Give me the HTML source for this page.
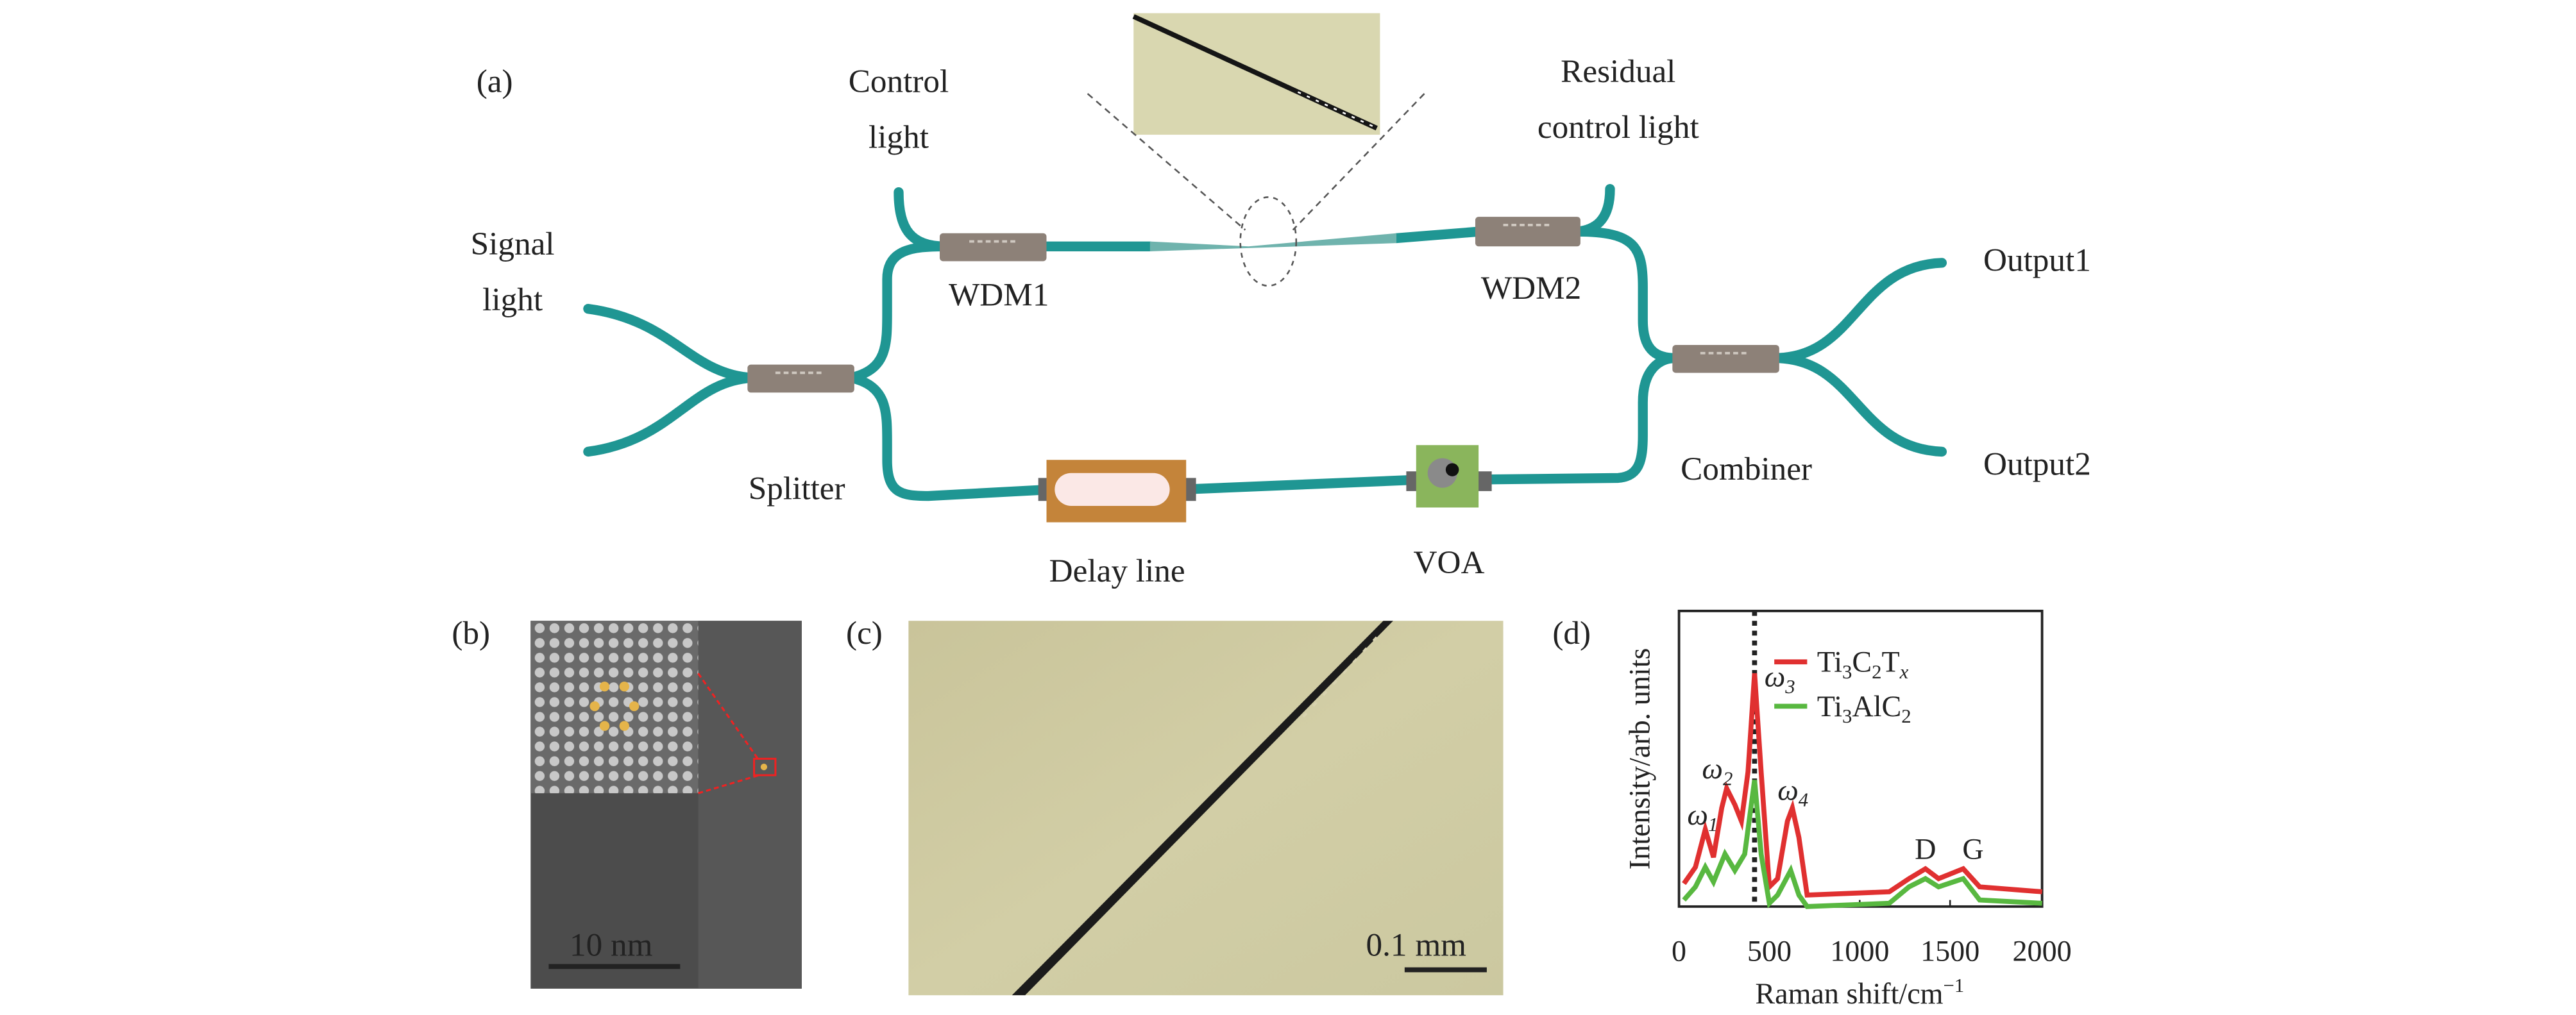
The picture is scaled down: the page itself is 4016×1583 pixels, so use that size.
<!DOCTYPE html>
<html><head><meta charset="utf-8"><style>
html,body{margin:0;padding:0;background:#fff;}
svg{display:block;}
text{font-family:"Liberation Serif",serif;fill:#222;}
</style></head><body>
<svg width="4016" height="1583" viewBox="0 0 1568 618" xmlns="http://www.w3.org/2000/svg">
<defs>
<pattern id="dots" width="9" height="9" patternUnits="userSpaceOnUse">
<rect width="9" height="9" fill="#6a6a6a"/><circle cx="4.5" cy="4.5" r="3" fill="#c8c8c8"/></pattern>
<linearGradient id="cg" x1="0" y1="0" x2="1" y2="1">
<stop offset="0" stop-color="#c9c49a"/><stop offset="0.5" stop-color="#d2cea6"/><stop offset="1" stop-color="#cbc8a0"/></linearGradient>
</defs>
<rect width="1568" height="618" fill="#fff"/>
<!-- panel a -->
<text x="290" y="56" font-size="20">(a)</text>
<text x="547" y="56" font-size="20" text-anchor="middle">Control</text>
<text x="547" y="90" font-size="20" text-anchor="middle">light</text>
<text x="985" y="50" font-size="20" text-anchor="middle">Residual</text>
<text x="985" y="84" font-size="20" text-anchor="middle">control light</text>
<text x="312" y="155" font-size="20" text-anchor="middle">Signal</text>
<text x="312" y="189" font-size="20" text-anchor="middle">light</text>
<!-- inset photo -->
<rect x="690" y="8" width="150" height="74" fill="#d9d7b0"/>
<line x1="690" y1="10" x2="838" y2="78" stroke="#151515" stroke-width="3"/>
<line x1="790" y1="56" x2="836" y2="77" stroke="#fff" stroke-width="1" stroke-dasharray="2 4"/>
<line x1="662" y1="57" x2="758" y2="140" stroke="#555" stroke-width="1" stroke-dasharray="4 3"/>
<line x1="867" y1="57" x2="787" y2="140" stroke="#555" stroke-width="1" stroke-dasharray="4 3"/>
<!-- fibers -->
<g fill="none" stroke="#1f9693" stroke-width="6" stroke-linecap="round">
<path d="M358 188 C410 195 420 228 458 230"/>
<path d="M358 275 C410 268 420 232 458 230"/>
<path d="M518 230 C540 225 540 210 540 190 L540 170 C540 152 555 150 575 150"/>
<path d="M547 117 C547 140 555 150 575 150"/>
<path d="M635 150 L700 150"/>
<path d="M850 145 L900 141"/>
<path d="M980 115 C980 135 970 140 960 141"/>
<path d="M960 141 C995 141 1000 150 1000 175 L1000 195 C1000 215 1010 218 1020 218"/>
<path d="M1080 218 C1130 218 1130 162 1182 160"/>
<path d="M1080 218 C1130 218 1130 273 1182 275"/>
<path d="M518 230 C540 235 540 250 540 270 L540 280 C540 300 548 302 565 302 L640 298"/>
<path d="M720 298 L865 292"/>
<path d="M898 292 L985 291 C998 290 1000 280 1000 265 L1000 245 C1000 225 1010 218 1020 218"/>
</g>
<path d="M700 147 L760 150 L850 142 L850 148 L760 151 L700 153 Z" fill="#6fb3ad"/>
<ellipse cx="772" cy="147" rx="17" ry="27" fill="none" stroke="#555" stroke-width="1" stroke-dasharray="3 3"/>
<!-- couplers -->
<g fill="#8d8178">
<rect x="455" y="222" width="65" height="17" rx="2"/>
<rect x="572" y="142" width="65" height="17" rx="2"/>
<rect x="898" y="132" width="64" height="18" rx="2"/>
<rect x="1018" y="210" width="65" height="17" rx="2"/>
</g>
<g stroke="#cfc8c0" stroke-width="1.5" stroke-dasharray="3 2">
<line x1="472" y1="227" x2="500" y2="227"/><line x1="590" y1="147" x2="620" y2="147"/>
<line x1="915" y1="137" x2="945" y2="137"/><line x1="1035" y1="215" x2="1065" y2="215"/>
</g>
<!-- delay line -->
<rect x="632" y="291" width="8" height="14" fill="#666"/>
<rect x="720" y="291" width="8" height="14" fill="#666"/>
<rect x="637" y="280" width="85" height="38" fill="#c4843a"/>
<rect x="642" y="288" width="70" height="20" rx="10" fill="#fbe8e6"/>
<!-- VOA -->
<rect x="856" y="287" width="8" height="12" fill="#666"/>
<rect x="898" y="287" width="10" height="12" fill="#666"/>
<rect x="862" y="271" width="38" height="38" fill="#8ab55c"/>
<circle cx="878" cy="288" r="9" fill="#8a8a8a"/>
<circle cx="884" cy="286" r="4" fill="#111"/>
<text x="485" y="304" font-size="20" text-anchor="middle">Splitter</text>
<text x="608" y="186" font-size="20" text-anchor="middle">WDM1</text>
<text x="932" y="182" font-size="20" text-anchor="middle">WDM2</text>
<text x="1063" y="292" font-size="20" text-anchor="middle">Combiner</text>
<text x="1240" y="165" font-size="20" text-anchor="middle">Output1</text>
<text x="1240" y="289" font-size="20" text-anchor="middle">Output2</text>
<text x="680" y="354" font-size="20" text-anchor="middle">Delay line</text>
<text x="882" y="349" font-size="20" text-anchor="middle">VOA</text>
<!-- panel b -->
<text x="275" y="392" font-size="20">(b)</text>
<rect x="323" y="378" width="165" height="224" fill="#4c4c4c"/>
<rect x="425" y="378" width="63" height="224" fill="#575757"/>
<rect x="323" y="378" width="102" height="105" fill="url(#dots)"/>
<g fill="#e5b44a"><circle cx="368" cy="418" r="3"/><circle cx="380" cy="418" r="3"/><circle cx="362" cy="430" r="3"/><circle cx="386" cy="430" r="3"/><circle cx="368" cy="442" r="3"/><circle cx="380" cy="442" r="3"/></g>
<line x1="425" y1="410" x2="462" y2="463" stroke="#e22" stroke-width="1.2" stroke-dasharray="3 2"/>
<line x1="425" y1="483" x2="462" y2="472" stroke="#e22" stroke-width="1.2" stroke-dasharray="3 2"/>
<rect x="459" y="462" width="13" height="10" fill="none" stroke="#e22" stroke-width="1.2"/>
<circle cx="465" cy="467" r="2" fill="#e5b44a"/>
<text x="372" y="582" font-size="20" text-anchor="middle">10 nm</text>
<rect x="334" y="587" width="80" height="3" fill="#222"/>
<!-- panel c -->
<text x="515" y="392" font-size="20">(c)</text>
<rect x="553" y="378" width="362" height="228" fill="url(#cg)"/>
<path d="M842 378 L848 378 L624 606 L616 606 Z" fill="#1b1b1b"/>
<line x1="838" y1="388" x2="790" y2="440" stroke="#d8d3b0" stroke-width="1.5" stroke-dasharray="3 6"/>
<text x="862" y="582" font-size="20" text-anchor="middle">0.1 mm</text>
<rect x="855" y="589" width="50" height="3" fill="#222"/>
<!-- panel d -->
<text x="945" y="392" font-size="20">(d)</text>
<rect x="1022" y="372" width="221" height="180" fill="none" stroke="#222" stroke-width="1.5"/>
<g stroke="#222" stroke-width="1"><line x1="1077" y1="552" x2="1077" y2="548"/><line x1="1132" y1="552" x2="1132" y2="548"/><line x1="1187" y1="552" x2="1187" y2="548"/></g>
<text x="1022" y="585" font-size="18" text-anchor="middle">0</text>
<text x="1077" y="585" font-size="18" text-anchor="middle">500</text>
<text x="1132" y="585" font-size="18" text-anchor="middle">1000</text>
<text x="1187" y="585" font-size="18" text-anchor="middle">1500</text>
<text x="1243" y="585" font-size="18" text-anchor="middle">2000</text>
<text x="1132" y="611" font-size="18" text-anchor="middle">Raman shift/cm<tspan dy="-7" font-size="12">−1</tspan></text>
<text transform="translate(1004 462) rotate(-90)" font-size="18" text-anchor="middle">Intensity/arb. units</text>
<line x1="1068" y1="372" x2="1068" y2="552" stroke="#222" stroke-width="3" stroke-dasharray="3 3"/>
<path d="M1025 538 L1032 528 L1038 505 L1043 522 L1048 492 L1051 480 L1056 490 L1060 500 L1064 470 L1068 410 L1072 470 L1077 540 L1082 535 L1088 500 L1091 492 L1095 510 L1100 545 L1150 543 L1162 535 L1172 529 L1180 535 L1195 529 L1205 540 L1243 543" fill="none" stroke="#e03030" stroke-width="3"/>
<path d="M1025 548 L1032 540 L1038 528 L1043 537 L1050 520 L1056 530 L1062 520 L1068 475 L1072 520 L1077 550 L1082 545 L1090 530 L1095 545 L1100 552 L1150 550 L1162 540 L1172 535 L1180 540 L1195 535 L1205 548 L1243 550" fill="none" stroke="#58b840" stroke-width="3"/>
<line x1="1080" y1="403" x2="1100" y2="403" stroke="#e03030" stroke-width="3"/>
<line x1="1080" y1="430" x2="1100" y2="430" stroke="#58b840" stroke-width="3"/>
<text x="1106" y="409" font-size="18">Ti<tspan dy="4" font-size="12">3</tspan><tspan dy="-4">C</tspan><tspan dy="4" font-size="12">2</tspan><tspan dy="-4">T</tspan><tspan dy="4" font-size="12" font-style="italic">x</tspan></text>
<text x="1106" y="436" font-size="18">Ti<tspan dy="4" font-size="12">3</tspan><tspan dy="-4">AlC</tspan><tspan dy="4" font-size="12">2</tspan></text>
<g font-style="italic" font-size="18">
<text x="1027" y="502">ω<tspan dy="4" font-size="12">1</tspan></text>
<text x="1036" y="474">ω<tspan dy="4" font-size="12">2</tspan></text>
<text x="1074" y="418">ω<tspan dy="4" font-size="12">3</tspan></text>
<text x="1082" y="487">ω<tspan dy="4" font-size="12">4</tspan></text>
</g>
<text x="1172" y="523" font-size="18" text-anchor="middle">D</text>
<text x="1201" y="523" font-size="18" text-anchor="middle">G</text>
</svg>
</body></html>
